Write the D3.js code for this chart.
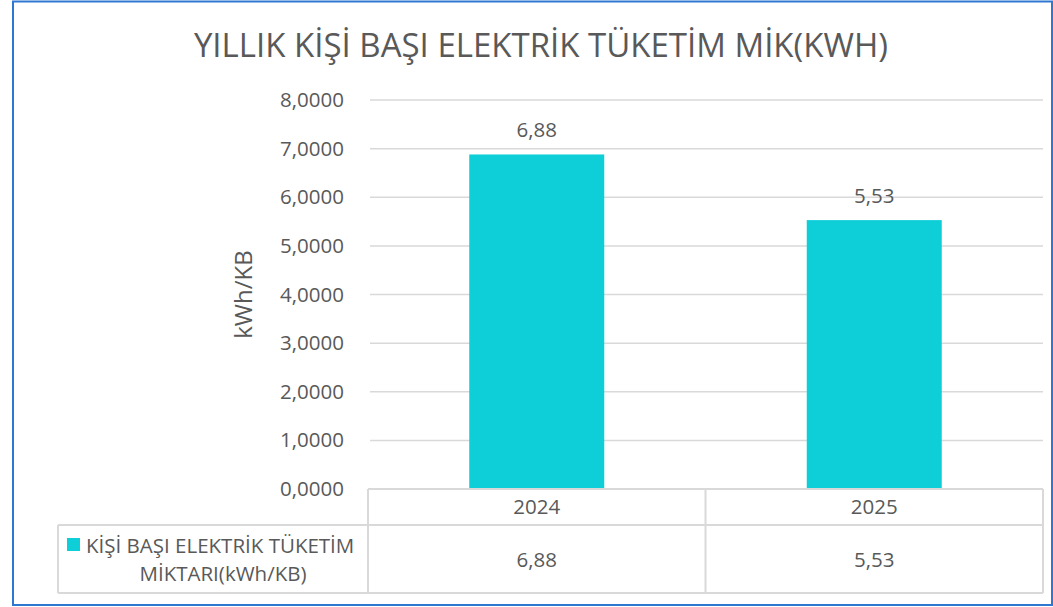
<!DOCTYPE html>
<html>
<head>
	<meta charset="utf-8">
	<title>Yıllık kişi başı elektrik tüketim</title>
	<style>
		body { margin: 0; background: #fff; }
		svg text { font-family: "Open Sans", sans-serif; fill: #595959; }
	</style>
</head>
<body>
	<svg id="canvas" width="1053" height="607"></svg>
	<script src="https://cdn.jsdelivr.net/npm/d3@7"></script>
	<script>
		// data
		let years = ["2024", "2025"];
		let values = [6.88, 5.53];
		let yTicks = [0, 1, 2, 3, 4, 5, 6, 7, 8];
		let seriesName = ["KİŞİ BAŞI ELEKTRİK TÜKETİM", "MİKTARI(kWh/KB)"];
		let title = "YILLIK KİŞİ BAŞI ELEKTRİK TÜKETİM MİK(KWH)";
		let yTitle = "kWh/KB";

		let barColor = "#0ecfd8";
		let gridColor = "#d9d9d9";
		let fs = 20.5;

		let svg = d3.select("#canvas");
		let trLocale = d3.formatLocale({decimal: ",", thousands: ".", grouping: [3], currency: ["", ""]});
		let fmtTick = trLocale.format(".4f");
		let fmtVal = trLocale.format(".2f");

		// outer border
		svg.append("rect")
			.attr("x", 13).attr("y", 1.5)
			.attr("width", 1052 - 13).attr("height", 605 - 1.5)
			.attr("fill", "none")
			.attr("stroke", "#2e78d2")
			.attr("stroke-width", 2);

		let plot = {left: 368, right: 1043, top: 100, bottom: 489};

		let x = d3.scaleBand()
			.domain(years)
			.range([plot.left, plot.right])
			.paddingInner(0.6)
			.paddingOuter(0.3);

		let y = d3.scaleLinear()
			.domain([0, 8])
			.range([plot.bottom, plot.top]);

		// title
		svg.append("text")
			.attr("x", 541).attr("y", 57)
			.attr("text-anchor", "middle")
			.attr("font-size", 33)
			.text(title);

		// gridlines
		svg.append("g")
			.selectAll("line")
			.data(yTicks.slice(1))
			.enter().append("line")
				.attr("x1", plot.left + 2).attr("x2", plot.right)
				.attr("y1", d => y(d)).attr("y2", d => y(d))
				.attr("stroke", gridColor)
				.attr("stroke-width", 1.5);

		// y axis labels
		let yAxis = svg.append("g")
			.attr("transform", "translate(" + plot.left + ",0)")
			.call(d3.axisLeft(y).tickValues(yTicks).tickFormat(fmtTick).tickSize(0).tickPadding(24));
		yAxis.select(".domain").remove();
		yAxis.selectAll("text")
			.attr("font-size", fs)
			.attr("font-family", "Open Sans, sans-serif")
			.attr("fill", "#595959");

		svg.append("text")
			.attr("transform", "translate(252," + ((plot.top + plot.bottom) / 2) + ") rotate(-90)")
			.attr("text-anchor", "middle")
			.attr("font-size", 24)
			.text(yTitle);

		// bars
		svg.append("g")
			.selectAll("rect")
			.data(values)
			.enter().append("rect")
				.attr("x", (d, i) => x(years[i]))
				.attr("y", d => y(d))
				.attr("width", x.bandwidth())
				.attr("height", d => y(0) - y(d))
				.attr("fill", barColor);

		// data labels
		svg.append("g")
			.selectAll("text")
			.data(values)
			.enter().append("text")
				.attr("x", (d, i) => x(years[i]) + x.bandwidth() / 2)
				.attr("y", d => y(d) - 17)
				.attr("text-anchor", "middle")
				.attr("font-size", fs)
				.attr("fill", "#404040")
				.text(d => fmtVal(d));

		// data table
		let tbl = {legendLeft: 58, top: plot.bottom, mid: 525, bottom: 593};
		let colW = (plot.right - plot.left) / years.length;
		let tg = svg.append("g")
			.attr("stroke", gridColor)
			.attr("stroke-width", 2)
			.attr("fill", "none");
		tg.append("line").attr("x1", plot.left).attr("x2", plot.right).attr("y1", tbl.top).attr("y2", tbl.top);
		tg.append("line").attr("x1", tbl.legendLeft).attr("x2", plot.right).attr("y1", tbl.mid).attr("y2", tbl.mid);
		tg.append("line").attr("x1", tbl.legendLeft).attr("x2", plot.right).attr("y1", tbl.bottom).attr("y2", tbl.bottom);
		tg.append("line").attr("x1", tbl.legendLeft).attr("x2", tbl.legendLeft).attr("y1", tbl.mid).attr("y2", tbl.bottom);
		d3.range(years.length + 1).forEach(i => {
			let cx = plot.left + colW * i;
			tg.append("line").attr("x1", cx).attr("x2", cx).attr("y1", tbl.top).attr("y2", tbl.bottom);
		});

		svg.append("g").selectAll("text")
			.data(years)
			.enter().append("text")
				.attr("x", (d, i) => plot.left + colW * (i + 0.5))
				.attr("y", (tbl.top + tbl.mid) / 2 + 7)
				.attr("text-anchor", "middle")
				.attr("font-size", fs)
				.text(d => d);

		svg.append("g").selectAll("text")
			.data(values)
			.enter().append("text")
				.attr("x", (d, i) => plot.left + colW * (i + 0.5))
				.attr("y", (tbl.mid + tbl.bottom) / 2 + 8)
				.attr("text-anchor", "middle")
				.attr("font-size", fs)
				.text(d => fmtVal(d));

		// legend cell
		svg.append("rect")
			.attr("x", 67).attr("y", 538)
			.attr("width", 13).attr("height", 13)
			.attr("fill", barColor);
		svg.append("text")
			.attr("x", 86).attr("y", 553)
			.attr("font-size", fs)
			.text(seriesName[0]);
		svg.append("text")
			.attr("x", 223).attr("y", 581)
			.attr("text-anchor", "middle")
			.attr("font-size", fs)
			.text(seriesName[1]);
	</script>
</body>
</html>
